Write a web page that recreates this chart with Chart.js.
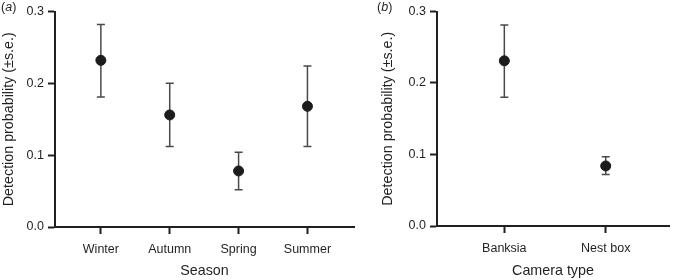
<!DOCTYPE html>
<html>
<head>
<meta charset="utf-8">
<script src="https://cdn.jsdelivr.net/npm/chart.js@4.4.1/dist/chart.umd.min.js"></script>
<style>
    html, body { margin: 0; padding: 0; background: #fff; }
    body { width: 675px; height: 280px; position: relative; overflow: hidden; font-family: "Liberation Sans", Arial, sans-serif; }
    .panel { position: absolute; top: 0; height: 280px; }
    .tag { position: absolute; top: 0; font-size: 12.5px; color: #231f20; }
</style>
</head>
<body>
<div class="panel" style="left:0;width:360px"><canvas id="chart-a" width="360" height="280"></canvas></div>
<div class="panel" style="left:360px;width:315px"><canvas id="chart-b" width="315" height="280"></canvas></div>
<span class="tag" style="left:1px">(<i>a</i>)</span>
<span class="tag" style="left:377px">(<i>b</i>)</span>
<script>
// --- DATA ---
const seasons = ['Winter', 'Autumn', 'Spring', 'Summer'];
const seasonMean = [0.232, 0.156, 0.078, 0.168];
const seasonLower = [0.181, 0.112, 0.052, 0.112];
const seasonUpper = [0.282, 0.200, 0.104, 0.224];

const cameraTypes = ['Banksia', 'Nest box'];
const cameraMean = [0.231, 0.084];
const cameraLower = [0.180, 0.072];
const cameraUpper = [0.281, 0.097];

const yTicks = [0.0, 0.1, 0.2, 0.3];

const INK = '#231f20';
const FONT = '"Liberation Sans", Arial, sans-serif';

// error bars drawn under the points
const errorBars = {
    id: 'errorBars',
    beforeDatasetsDraw(chart) {
        const { ctx, scales: { x, y } } = chart;
        const { lower, upper } = chart.options.plugins.errorBars;
        ctx.save();
        ctx.strokeStyle = '#4a4a4a';
        ctx.lineWidth = 1.5;
        lower.forEach((lo, i) => {
            const px = x.getPixelForValue(i + 1);
            const yLo = y.getPixelForValue(lo);
            const yHi = y.getPixelForValue(upper[i]);
            ctx.beginPath();
            ctx.moveTo(px, yLo); ctx.lineTo(px, yHi);
            ctx.moveTo(px - 4, yLo); ctx.lineTo(px + 4, yLo);
            ctx.moveTo(px - 4, yHi); ctx.lineTo(px + 4, yHi);
            ctx.stroke();
        });
        ctx.restore();
    }
};

function makeChart(canvasId, cfg) {
    const ctx = document.getElementById(canvasId).getContext('2d');
    return new Chart(ctx, {
        type: 'scatter',
        data: {
            datasets: [{
                data: cfg.mean.map((v, i) => ({ x: i + 1, y: v })),
                backgroundColor: '#1c1c1c',
                borderColor: '#1c1c1c',
                pointRadius: 5,
                pointHoverRadius: 5,
            }]
        },
        options: {
            responsive: false,
            animation: false,
            layout: { padding: { top: cfg.top, left: 0, right: cfg.right, bottom: 0 } },
            plugins: {
                legend: { display: false },
                tooltip: { enabled: false },
                errorBars: { lower: cfg.lower, upper: cfg.upper },
            },
            scales: {
                x: {
                    type: 'linear',
                    min: cfg.xMin,
                    max: cfg.xMax,
                    afterBuildTicks: (scale) => { scale.ticks = cfg.labels.map((_, i) => ({ value: i + 1 })); },
                    afterFit: (scale) => { scale.height = cfg.xHeight; },
                    border: { color: INK, width: 2 },
                    grid: { display: true, drawOnChartArea: false, tickLength: 7, tickColor: INK, tickWidth: 2 },
                    ticks: {
                        autoSkip: false,
                        maxRotation: 0,
                        padding: 8,
                        color: INK,
                        font: { family: FONT, size: 12.5 },
                        callback: (v) => cfg.labels[v - 1] ?? '',
                    },
                    title: {
                        display: true,
                        text: cfg.xTitle,
                        color: INK,
                        font: { family: FONT, size: 14.3 },
                        padding: { top: 0, bottom: 0.5 },
                    },
                },
                y: {
                    min: 0,
                    max: 0.3,
                    afterBuildTicks: (scale) => { scale.ticks = yTicks.map(v => ({ value: v })); },
                    afterFit: (scale) => { scale.width = cfg.yWidth; },
                    border: { color: INK, width: 2 },
                    grid: { display: true, drawOnChartArea: false, tickLength: 7, tickColor: INK, tickWidth: 2 },
                    ticks: {
                        padding: 4,
                        color: INK,
                        font: { family: FONT, size: 12.5 },
                        callback: (v) => v.toFixed(1),
                    },
                    title: {
                        display: true,
                        text: 'Detection probability (±s.e.)',
                        color: INK,
                        font: { family: FONT, size: 14.3 },
                        padding: { top: cfg.yTitlePad, bottom: 0 },
                    },
                },
            },
        },
        plugins: [errorBars],
    });
}

makeChart('chart-a', {
    labels: seasons, mean: seasonMean, lower: seasonLower, upper: seasonUpper,
    xTitle: 'Season', xMin: 0.334, xMax: 4.676,
    top: 11, right: 5, xHeight: 53, yWidth: 55, yTitlePad: 0,
});

makeChart('chart-b', {
    labels: cameraTypes, mean: cameraMean, lower: cameraLower, upper: cameraUpper,
    xTitle: 'Camera type', xMin: 0.336, xMax: 2.624,
    top: 8, right: 6, xHeight: 54, yWidth: 77, yTitlePad: 19.5,
});
</script>
</body>
</html>
